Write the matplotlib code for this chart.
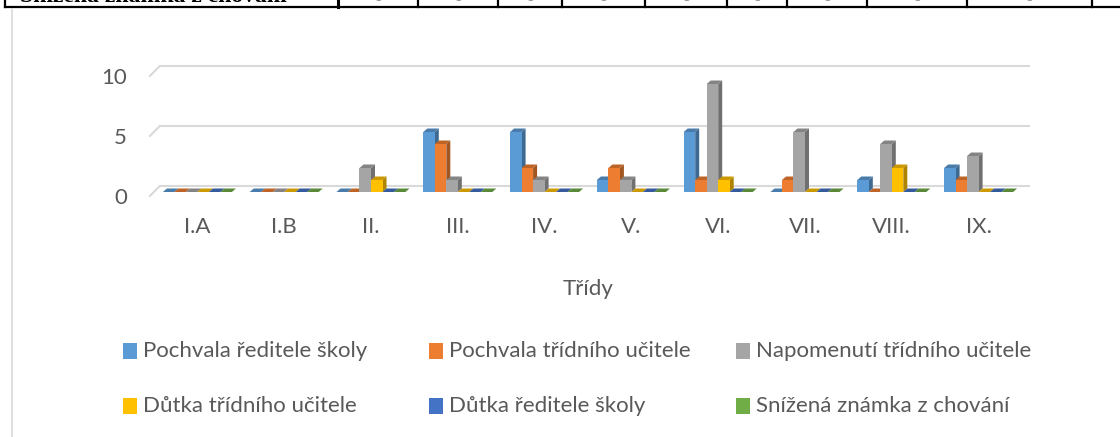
import matplotlib
matplotlib.use('Agg')
import matplotlib.pyplot as plt
from matplotlib.patches import Polygon, Rectangle
from matplotlib.lines import Line2D
from matplotlib import font_manager
import matplotlib.transforms as mtrans
import matplotlib.colors as mcolors

# ---------------- data ----------------
categories = ['I.A', 'I.B', 'II.', 'III.', 'IV.', 'V.', 'VI.', 'VII.', 'VIII.', 'IX.']
series_names = ['Pochvala ředitele školy', 'Pochvala třídního učitele',
                'Napomenutí třídního učitele', 'Důtka třídního učitele',
                'Důtka ředitele školy', 'Snížená známka z chování']
pochvala_reditele = [0, 0, 0, 5, 5, 1, 5, 0, 1, 2]
pochvala_tridniho = [0, 0, 0, 4, 2, 2, 1, 1, 0, 1]
napomenuti_tridniho = [0, 0, 2, 1, 1, 1, 9, 5, 4, 3]
dutka_tridniho = [0, 0, 1, 0, 0, 0, 1, 0, 2, 0]
dutka_reditele = [0, 0, 0, 0, 0, 0, 0, 0, 0, 0]
snizena_znamka = [0, 0, 0, 0, 0, 0, 0, 0, 0, 0]
y_ticks = [0, 5, 10]
x_title = 'Třídy'
table_row_label = 'Snížená známka z chování'

series_values = [pochvala_reditele, pochvala_tridniho, napomenuti_tridniho,
                 dutka_tridniho, dutka_reditele, snizena_znamka]
colors = ['#5B9BD5', '#ED7D31', '#A5A5A5', '#FFC000', '#4472C4', '#70AD47']

# ---------------- style ----------------
W, H, DPI = 1120, 437, 100
TEXT = '#595959'
GRID = '#D9D9D9'
avail = {f.name for f in font_manager.fontManager.ttflist}
if 'Liberation Sans Narrow' in avail:
    FONT, FS = 'Liberation Sans Narrow', 17.5
else:
    FONT, FS = 'Lato', 16
plt.rcParams['font.family'] = [FONT, 'DejaVu Sans']


def fx(px):
    return px / W


def fy(py):
    return 1 - py / H


def shade(c, f):
    r, g, b = mcolors.to_rgb(c)
    return (r * f, g * f, b * f)


fig = plt.figure(figsize=(W / DPI, H / DPI), dpi=DPI)
fig.patch.set_facecolor('white')

# ---- cropped table row at the top ----
cell_edges = [338, 418, 498, 562, 645, 727, 787, 867, 967, 1092]
fig.text(fx(20), fy(1.5), table_row_label, family='Liberation Serif',
         weight='bold', fontsize=17, va='baseline', ha='left', color='black')
for k in range(len(cell_edges) - 1):
    fig.text(fx((cell_edges[k] + cell_edges[k + 1]) / 2), fy(1.0),
             str(snizena_znamka[k]), family='Liberation Serif', fontsize=14,
             va='baseline', ha='center', color='#808080')
fig.add_artist(Line2D([fx(5), fx(W)], [fy(7), fy(7)], color='black', lw=1.6))
for xe in [5] + cell_edges:
    fig.add_artist(Line2D([fx(xe), fx(xe)], [fy(0), fy(7)], color='black',
                          lw=2.2 if xe == 338 else 1.6))

# chart area border (left edge)
fig.add_artist(Line2D([fx(11.5), fx(11.5)], [fy(9), fy(H)], color=GRID, lw=1.2))

# ---------------- axes ----------------
ax = fig.add_axes([fx(154), fy(192), fx(868), 132 / H])
ax.set_xlim(-0.5, len(categories) - 0.5)
ax.set_ylim(0, 11)
ax.patch.set_visible(False)
for s in ax.spines.values():
    s.set_visible(False)

n = len(series_values)
group_w = 0.795
w = group_w / n
cat_px = 868 / len(categories)
ddx = 4.0 / cat_px        # depth offset in data units (x)
ddy = 3.5 / 12.0          # depth offset in data units (y)

# back-wall gridlines with side-wall diagonal
wall_y = 0.5
for v in y_ticks:
    ax.plot([-0.432, 9.59], [v + wall_y, v + wall_y], color=GRID, lw=1.5,
            zorder=0.5, clip_on=False, solid_capstyle='butt')
    ax.plot([-0.547, -0.432], [v - 0.33, v + wall_y], color=GRID, lw=1.5,
            zorder=0.5, clip_on=False)

xs_base = list(range(len(categories)))
for j, (vals, col) in enumerate(zip(series_values, colors)):
    xs = [x + (j - (n - 1) / 2) * w for x in xs_base]
    z = 2 + j
    bars = ax.bar(xs, vals, width=w, color=col, linewidth=0, zorder=z + 0.02,
                  clip_on=False)
    for rect in bars:
        x0 = rect.get_x()
        x1 = x0 + rect.get_width()
        h = rect.get_height()
        side = Polygon([(x1, 0), (x1 + ddx, ddy), (x1 + ddx, h + ddy), (x1, h)],
                       closed=True, facecolor=shade(col, 0.68), lw=0,
                       zorder=z, clip_on=False)
        top = Polygon([(x0, h), (x1, h), (x1 + ddx, h + ddy), (x0 + ddx, h + ddy)],
                      closed=True, facecolor=shade(col, 0.8), lw=0,
                      zorder=z + 0.01, clip_on=False)
        ax.add_patch(side)
        ax.add_patch(top)

# ticks
ax.set_xticks(xs_base)
ax.set_xticklabels(categories)
ax.set_yticks(y_ticks)
ax.set_yticklabels([str(v) for v in y_ticks])
ax.tick_params(axis='x', length=0, pad=18, labelsize=FS, labelcolor=TEXT)
ax.tick_params(axis='y', length=0, pad=19.5, labelsize=FS, labelcolor=TEXT)
offs = mtrans.ScaledTranslation(0, -4 / DPI, fig.dpi_scale_trans)
for t in ax.yaxis.get_major_ticks():
    t.label1.set_transform(t.label1.get_transform() + offs)

ax.set_xlabel(x_title, fontsize=FS, color=TEXT, va='center')
ax.xaxis.set_label_coords(0.5, (192 - 289) / 132)

# ---------------- legend (Excel style, fixed columns) ----------------
col_x = [123, 429, 736]
row_y = [351, 406]
for i, (name, col) in enumerate(zip(series_names, colors)):
    c, r = i % 3, i // 3
    fig.add_artist(Rectangle((fx(col_x[c]), fy(row_y[r] + 8)), 14 / W, 16 / H,
                             facecolor=col, lw=0))
    fig.text(fx(col_x[c] + 20), fy(row_y[r]), name, fontsize=FS, color=TEXT,
             va='center', ha='left')

fig.savefig('out.png', dpi=DPI)
